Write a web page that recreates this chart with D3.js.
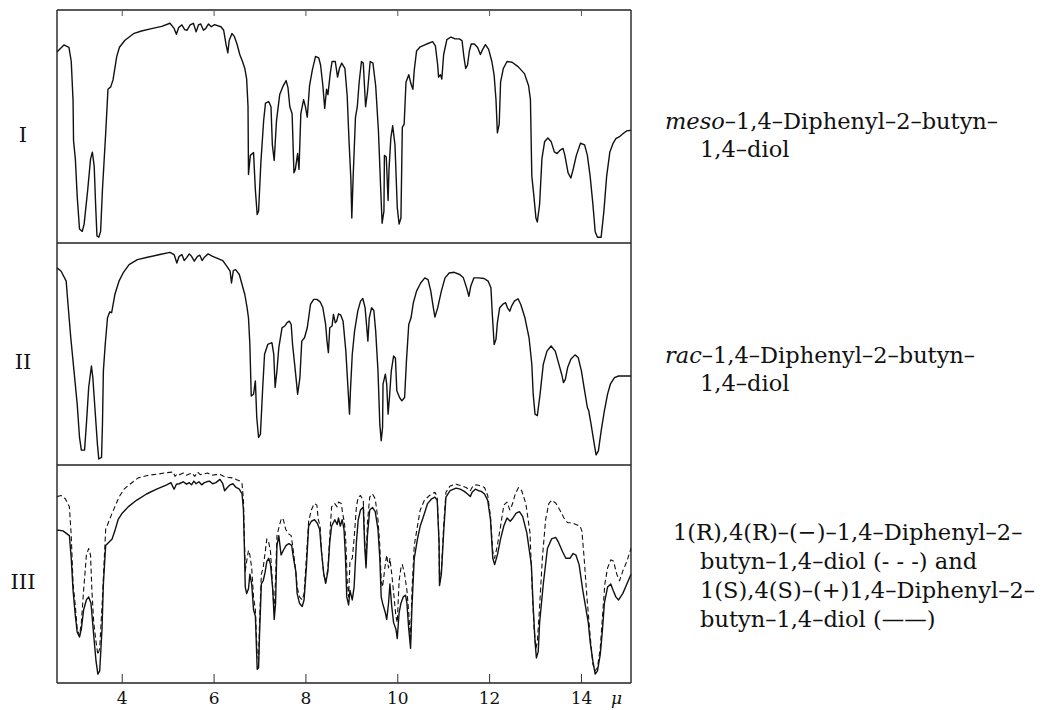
<!DOCTYPE html>
<html>
<head>
<meta charset="utf-8">
<script src="https://cdn.jsdelivr.net/npm/d3@7"></script>
<style>
  body { margin: 0; background: #fff; }
  text { font-family: "DejaVu Serif", "Liberation Serif", serif; fill: #111; }
  path.spectrum { fill: none; stroke: #111; stroke-width: 1.4; stroke-linejoin: round; }
  path.dashed { stroke-dasharray: 5,3; stroke-width: 1.1; }
  line.frame { stroke: #222; stroke-width: 1.4; }
</style>
</head>
<body>
<script>

// wavelength ticks (micron)
var tickValues = [4, 6, 8, 10, 12, 14];
var panelNames = ["I", "II", "III"];

// spectra: [wavelength in micron, transmission in % of panel height]
var meso = [[2.59,82],[2.74,85],[2.85,84],[2.90,78],[2.94,61],[2.95,44],[2.99,36],[3.03,20],[3.08,6],[3.14,5],[3.18,8],[3.26,23],[3.32,36],[3.36,39],[3.40,33],[3.43,17],[3.46,3],[3.50,2.5],[3.54,5],[3.58,23],[3.65,47],[3.70,66],[3.76,67],[3.81,70],[3.89,80],[3.95,84],[4.07,87],[4.27,90],[4.43,91],[4.65,92],[4.87,93],[5.05,94.3],[5.14,92.1],[5.19,89.6],[5.24,92.5],[5.31,93.6],[5.37,91.6],[5.42,91.3],[5.49,93.6],[5.56,94.3],[5.62,90.6],[5.67,93.6],[5.72,94],[5.78,91.3],[5.83,92.1],[5.89,94],[5.95,92.8],[6.02,93.7],[6.16,92.8],[6.22,91.3],[6.27,85.4],[6.31,81.6],[6.34,86.9],[6.40,89.9],[6.45,88.7],[6.51,85.4],[6.57,80.9],[6.63,77.9],[6.68,74.9],[6.72,70.4],[6.75,58.5],[6.76,29.4],[6.80,37.6],[6.87,38.8],[6.91,22.7],[6.95,12.2],[6.98,13.7],[7.03,34.6],[7.09,52.5],[7.13,60],[7.20,60.7],[7.25,58.5],[7.28,42.1],[7.32,35.4],[7.37,52.5],[7.44,63.7],[7.51,67.2],[7.58,69.7],[7.62,66.7],[7.66,58.5],[7.71,55.5],[7.75,30.1],[7.78,31.6],[7.83,38.4],[7.86,31.6],[7.90,55.5],[7.96,61.5],[8.00,58.5],[8.04,54],[8.09,67.5],[8.15,74.2],[8.22,80.1],[8.29,79.4],[8.33,76.4],[8.38,67.5],[8.42,57.8],[8.46,66],[8.49,63.7],[8.54,72.7],[8.58,77.9],[8.65,77.9],[8.70,71.2],[8.74,74.9],[8.79,77.2],[8.86,74.9],[8.91,63],[8.95,43.6],[8.99,27.2],[9.01,10.7],[9.04,28.7],[9.09,54],[9.13,58.5],[9.17,69],[9.22,77.9],[9.26,77.2],[9.31,58.5],[9.35,64.5],[9.41,77.9],[9.47,77.2],[9.53,67.5],[9.59,48.1],[9.64,22.7],[9.67,8.5],[9.71,13.7],[9.72,37.6],[9.76,36.9],[9.80,18.2],[9.82,31.6],[9.86,45.1],[9.90,50.3],[9.95,42.1],[10.00,15.2],[10.04,8.1],[10.08,10.7],[10.11,49.6],[10.15,51],[10.19,69],[10.25,72.2],[10.30,68.2],[10.34,66],[10.37,74.2],[10.42,82.4],[10.50,84.2],[10.64,85.4],[10.77,86.4],[10.83,84.6],[10.88,76.4],[10.90,71.2],[10.94,72.2],[10.97,70.4],[11.01,80.9],[11.08,87.3],[11.17,88.4],[11.26,87.6],[11.35,87.6],[11.41,86.9],[11.45,80.1],[11.49,74.9],[11.53,76.4],[11.57,82.4],[11.61,85.4],[11.68,85.4],[11.75,83.9],[11.81,80.9],[11.86,83.1],[11.92,85.1],[11.99,83.1],[12.06,77.9],[12.11,71.9],[12.15,61.5],[12.18,47.3],[12.22,51],[12.25,69],[12.31,74.9],[12.39,77.9],[12.50,77.6],[12.63,75.7],[12.77,72.7],[12.86,67.5],[12.90,61.5],[12.93,28.7],[12.97,21.2],[13.02,10.7],[13.05,9],[13.10,16.7],[13.15,36.1],[13.21,43.6],[13.28,45.1],[13.35,43.6],[13.42,39.1],[13.48,38.4],[13.55,39.9],[13.61,40.6],[13.65,37.6],[13.72,30.1],[13.78,27.9],[13.83,31.6],[13.90,37.6],[13.99,42.8],[14.08,42.1],[14.14,37.6],[14.20,28.7],[14.26,16.7],[14.31,4.8],[14.36,2.5],[14.44,2.5],[14.50,13.7],[14.56,28.7],[14.63,39.1],[14.70,42.8],[14.76,44.8],[14.85,45.8],[14.94,47.3],[15.00,48.1],[15.09,48.4]];

var rac = [[2.59,88.8],[2.68,87.3],[2.79,82.8],[2.83,72.3],[2.89,57.3],[2.96,42.4],[3.03,27.4],[3.08,12.4],[3.12,6.7],[3.19,6.7],[3.23,18.4],[3.28,34.9],[3.34,44.6],[3.37,39.4],[3.42,24.4],[3.47,9.4],[3.50,2.7],[3.56,3.4],[3.58,18.4],[3.60,42.4],[3.64,54.3],[3.69,66.3],[3.74,69],[3.78,68.6],[3.85,76.8],[3.94,82.8],[4.03,86.5],[4.16,90.3],[4.34,92.5],[4.56,93.6],[4.83,94.8],[5.05,95.8],[5.14,94.8],[5.20,91],[5.25,94],[5.31,94.8],[5.36,92.1],[5.41,93.3],[5.47,95.1],[5.52,94],[5.58,91.8],[5.65,94],[5.70,94.5],[5.75,92.1],[5.80,93.6],[5.88,95.1],[5.98,94],[6.20,92.1],[6.29,89.5],[6.36,87.3],[6.39,82],[6.43,87.6],[6.48,88],[6.56,85.8],[6.62,81.3],[6.68,76.8],[6.73,70.8],[6.76,66.3],[6.79,54.3],[6.82,31.1],[6.87,31.9],[6.91,37.9],[6.94,21.4],[6.98,12.4],[7.02,13.9],[7.07,34.9],[7.11,49.9],[7.18,54.3],[7.27,55.1],[7.31,49.9],[7.34,34.9],[7.38,42.4],[7.42,52.8],[7.49,61.8],[7.55,62.6],[7.60,64.1],[7.65,64.8],[7.69,63.3],[7.72,54.3],[7.78,42.4],[7.83,31.9],[7.88,39.4],[7.92,55.8],[7.98,57.3],[8.04,61.8],[8.11,72.3],[8.18,74.6],[8.25,74.6],[8.32,73.5],[8.38,70.8],[8.44,63.3],[8.47,55.8],[8.50,50.6],[8.53,61.8],[8.58,62.6],[8.61,67.8],[8.65,64.1],[8.68,64.8],[8.72,68.1],[8.77,67.5],[8.82,64.8],[8.88,51.3],[8.93,33.4],[8.96,22.9],[8.98,33.4],[9.02,49.9],[9.07,60.3],[9.14,69.3],[9.20,73.8],[9.25,75],[9.30,70.8],[9.33,63.3],[9.36,55.8],[9.39,66.3],[9.44,70.8],[9.49,69.6],[9.53,60.3],[9.58,42.4],[9.62,18.4],[9.65,10.9],[9.68,16.9],[9.69,36.4],[9.74,40.9],[9.77,36.4],[9.80,22.9],[9.83,30.4],[9.87,42.4],[9.92,49.1],[9.96,48.1],[9.99,33.4],[10.05,30.4],[10.10,28.9],[10.16,30.4],[10.20,46.9],[10.25,63.3],[10.30,66.3],[10.35,73.1],[10.42,78.3],[10.51,82],[10.60,84.3],[10.67,83.5],[10.73,78.3],[10.78,71.6],[10.82,66.6],[10.88,70.8],[10.96,78.3],[11.04,84.3],[11.13,86.5],[11.24,86.8],[11.36,85.8],[11.44,84.3],[11.51,79.8],[11.56,76],[11.60,80.5],[11.67,84.3],[11.77,84.3],[11.89,84],[11.98,82.8],[12.04,79.8],[12.07,67.8],[12.11,54.3],[12.15,56.6],[12.18,64.1],[12.23,70.8],[12.31,72.6],[12.36,73.1],[12.40,70.8],[12.45,69.3],[12.49,71.6],[12.55,73.8],[12.63,74.9],[12.69,72.3],[12.78,66.3],[12.87,57.3],[12.93,45.4],[12.96,31.9],[13.00,22.9],[13.05,22.2],[13.11,31.9],[13.18,45.4],[13.26,51.3],[13.35,53.6],[13.44,51.3],[13.51,46.1],[13.58,40.9],[13.62,37.1],[13.66,38.6],[13.71,43.9],[13.78,47.6],[13.87,49.6],[13.94,48.4],[14.01,42.4],[14.08,33.4],[14.14,25.9],[14.17,24.4],[14.22,18.4],[14.29,9.4],[14.33,4.6],[14.38,6.4],[14.44,15.4],[14.51,24.4],[14.58,31.9],[14.64,36.4],[14.73,39.4],[14.82,40.1],[14.93,40.1],[15.09,40.1]];

// 1(S),4(S)-(+) : solid line
var ssPlus = [[2.59,70.2],[2.72,69.8],[2.86,67.6],[2.90,57.2],[2.94,42.5],[2.99,30.7],[3.03,23.3],[3.08,21.1],[3.12,24.8],[3.17,33.6],[3.23,38.1],[3.28,39.5],[3.33,36.6],[3.39,21.8],[3.44,10],[3.48,4.1],[3.52,5.6],[3.57,24.8],[3.60,45.4],[3.65,63.1],[3.72,64.6],[3.79,66.1],[3.85,69.8],[3.92,74.9],[4.01,77.9],[4.14,80.8],[4.32,83.8],[4.54,86.7],[4.76,88.9],[4.98,90.9],[5.07,91.9],[5.14,88.9],[5.19,91.2],[5.25,91.4],[5.34,92.3],[5.41,91.2],[5.47,91.9],[5.52,90.9],[5.57,92.6],[5.62,91.4],[5.68,92.3],[5.74,90.9],[5.80,91.9],[5.85,92.3],[5.91,92.6],[5.98,91.4],[6.05,91.9],[6.14,93.4],[6.20,91.4],[6.24,88.2],[6.30,89.7],[6.36,90.9],[6.42,91.4],[6.49,89.7],[6.56,88.9],[6.62,86.7],[6.65,79.4],[6.67,63.1],[6.69,44],[6.72,41],[6.76,43.2],[6.79,49.9],[6.83,45.4],[6.87,33.6],[6.91,30.7],[6.95,6.3],[6.98,7.1],[7.00,21.8],[7.04,45.4],[7.08,46.9],[7.12,50.6],[7.16,55.8],[7.20,57.2],[7.24,54.3],[7.29,42.5],[7.32,29.2],[7.35,36.6],[7.38,63.1],[7.42,67.6],[7.47,58.7],[7.52,60.9],[7.58,63.1],[7.64,63.9],[7.70,63.1],[7.74,57.2],[7.79,51.3],[7.82,41],[7.87,36.6],[7.93,35.1],[7.97,38.1],[8.02,52.8],[8.07,72],[8.13,74.2],[8.20,74.9],[8.26,73.2],[8.31,70.5],[8.35,60.2],[8.40,49.9],[8.44,45.7],[8.49,51.3],[8.53,64.6],[8.57,72],[8.64,74.9],[8.69,72.7],[8.72,75.7],[8.76,72],[8.80,74.9],[8.84,70.5],[8.87,58.7],[8.90,39.5],[8.94,35.8],[8.97,42.5],[9.02,38.1],[9.06,44],[9.11,64.6],[9.15,74.9],[9.20,79.4],[9.26,80.8],[9.29,63.1],[9.32,52.8],[9.35,67.6],[9.40,79.4],[9.46,80.5],[9.52,78.6],[9.58,70.5],[9.62,57.2],[9.65,39.5],[9.68,36.6],[9.74,32.2],[9.77,29.2],[9.81,36.6],[9.84,45.4],[9.88,35.1],[9.92,27.7],[9.97,24.8],[10.00,20.4],[10.04,32.2],[10.08,36.6],[10.13,39.5],[10.18,40.3],[10.21,36.6],[10.25,24.8],[10.29,15.9],[10.32,35.1],[10.37,57.2],[10.44,66.1],[10.50,72],[10.57,76.4],[10.66,82.3],[10.75,84.5],[10.82,85.3],[10.87,83.8],[10.91,64.6],[10.92,44.7],[10.96,49.9],[11.01,69],[11.06,85.3],[11.15,88.2],[11.28,89.4],[11.37,88.9],[11.46,87.9],[11.53,86.7],[11.59,85.5],[11.63,87.5],[11.70,88.9],[11.77,88.2],[11.83,87.9],[11.90,86.7],[11.97,83.8],[12.03,74.9],[12.08,57.2],[12.12,54.3],[12.18,58.7],[12.25,66.1],[12.32,72],[12.39,75.7],[12.46,74.2],[12.52,75.7],[12.59,77.9],[12.66,78.6],[12.73,76.4],[12.82,69],[12.92,54.3],[12.96,35.1],[13.00,18.9],[13.03,11.5],[13.07,14.5],[13.10,27.7],[13.18,45.4],[13.27,61.7],[13.36,66.1],[13.45,66.8],[13.51,64.6],[13.60,60.2],[13.67,57.2],[13.76,57.2],[13.83,59.4],[13.89,58.7],[13.96,54.3],[14.04,42.5],[14.16,27.7],[14.20,18.9],[14.26,10],[14.31,4.1],[14.36,5.6],[14.42,13],[14.47,24.8],[14.51,36.6],[14.58,44],[14.65,45.4],[14.70,42.5],[14.76,39.5],[14.82,38.1],[14.91,41],[15.00,45.4],[15.09,49.9]];

// 1(R),4(R)-(-) : dashed line
var rrMinus = [[2.59,85.5],[2.68,86],[2.77,84.5],[2.86,80.8],[2.90,67.6],[2.94,45.4],[2.99,35.1],[3.03,24.8],[3.08,21.8],[3.12,27.7],[3.17,42.5],[3.23,58.7],[3.28,61.7],[3.32,58.7],[3.35,42.5],[3.39,27.7],[3.44,18.9],[3.48,13],[3.52,15.9],[3.57,35.1],[3.61,52.8],[3.65,70.5],[3.72,74.2],[3.79,77.9],[3.85,80.8],[3.94,85.3],[4.05,88.9],[4.19,91.4],[4.36,94.1],[4.58,95.3],[4.81,95.9],[4.98,96.5],[5.12,96.8],[5.16,94.8],[5.21,95.9],[5.27,95.6],[5.34,96.3],[5.41,95.3],[5.47,95.9],[5.53,96.3],[5.59,94.8],[5.65,96.8],[5.71,95.6],[5.78,95.9],[5.87,96.3],[5.96,95.3],[6.05,95.6],[6.14,95.6],[6.22,94.8],[6.31,94.4],[6.40,94.1],[6.49,93.4],[6.58,92.6],[6.62,91.4],[6.65,83.8],[6.67,66.1],[6.69,51.3],[6.72,55.8],[6.76,60.9],[6.79,58.7],[6.83,52.8],[6.87,39.5],[6.91,33.6],[6.95,13],[6.98,10.8],[7.00,27.7],[7.04,49.9],[7.08,52.8],[7.12,59.4],[7.16,66.1],[7.20,64.6],[7.24,60.2],[7.29,42.5],[7.32,32.2],[7.35,48.4],[7.38,67.6],[7.43,72],[7.48,75.7],[7.52,74.9],[7.57,70.5],[7.64,68.3],[7.69,67.6],[7.73,61.7],[7.79,51.3],[7.82,44],[7.87,39.5],[7.93,38.1],[7.97,41],[8.02,57.2],[8.07,74.2],[8.13,79.4],[8.19,82.3],[8.25,81.6],[8.28,74.9],[8.32,72],[8.35,60.2],[8.40,49.9],[8.44,46.2],[8.49,52.8],[8.53,67.6],[8.57,80.8],[8.64,82.3],[8.69,80.8],[8.72,83],[8.78,82.3],[8.81,77.9],[8.85,73.5],[8.88,64.6],[8.91,46.9],[8.94,39.5],[8.97,55.8],[9.02,57.2],[9.06,66.1],[9.11,80.8],[9.15,85.3],[9.20,86],[9.26,83.8],[9.29,66.1],[9.32,54.3],[9.35,73.5],[9.40,85.3],[9.46,86.7],[9.52,84.5],[9.58,74.9],[9.62,63.1],[9.65,46.9],[9.68,44],[9.73,52.8],[9.77,58.7],[9.81,52.8],[9.84,57.2],[9.88,49.9],[9.93,39.5],[9.97,30.7],[10.00,27.7],[10.04,46.9],[10.08,52.8],[10.11,54.3],[10.16,49.9],[10.21,42.5],[10.25,32.2],[10.29,18.9],[10.32,42.5],[10.37,63.1],[10.44,72],[10.50,79.4],[10.59,83.8],[10.70,86],[10.82,87.5],[10.87,85.3],[10.91,64.6],[10.92,45.4],[10.96,51.3],[11.01,72],[11.06,87.5],[11.15,90.4],[11.28,91.2],[11.41,90.4],[11.50,89.7],[11.59,88.2],[11.65,90.4],[11.72,90.9],[11.81,90.4],[11.90,89.7],[11.97,86],[12.03,76.4],[12.08,60.2],[12.12,57.2],[12.18,63.1],[12.25,72],[12.32,81.6],[12.39,83],[12.45,79.4],[12.50,81.6],[12.57,86.7],[12.64,89.7],[12.71,88.2],[12.80,82.3],[12.89,69],[12.94,42.5],[12.98,24.8],[13.02,15.9],[13.05,18.9],[13.10,35.1],[13.16,57.2],[13.23,74.9],[13.30,82.3],[13.36,83.8],[13.45,82.6],[13.54,79.4],[13.63,75.7],[13.71,73.5],[13.80,73.5],[13.89,72.7],[13.98,72],[14.02,69.8],[14.07,57.2],[14.13,39.5],[14.20,21.8],[14.26,8.6],[14.31,5.6],[14.36,7.1],[14.42,15.9],[14.47,30.7],[14.52,45.4],[14.58,52.8],[14.65,56.5],[14.71,55.8],[14.78,49.9],[14.84,46.9],[14.91,51.3],[15.00,55.8],[15.09,61.7]];

var captions = [
  [{t: "meso", i: true}, {t: "–1,4–Diphenyl–2–butyn–"}],
  [{t: "1,4–diol"}],
  [{t: "rac", i: true}, {t: "–1,4–Diphenyl–2–butyn–"}],
  [{t: "1,4–diol"}],
  [{t: "1(R),4(R)–(−)–1,4–Diphenyl–2–"}],
  [{t: "butyn–1,4–diol (- - -) and"}],
  [{t: "1(S),4(S)–(+)1,4–Diphenyl–2–"}],
  [{t: "butyn–1,4–diol (——)"}]
];

var width = 1041, height = 710;
var left = 57, right = 631;
var bounds = [10, 243, 465, 683];   // panel edges, top to bottom

var svg = d3.select("body").append("svg")
    .attr("width", width)
    .attr("height", height);

var x = d3.scaleLinear().domain([2.59, 15.09]).range([left, right]);

var panels = [
  {series: [{data: meso}], name: panelNames[0]},
  {series: [{data: rac}], name: panelNames[1]},
  {series: [{data: rrMinus, dashed: true}, {data: ssPlus}], name: panelNames[2]}
];

panels.forEach(function(p, i) {
  var y = d3.scaleLinear().domain([0, 100]).range([bounds[i + 1], bounds[i]]);
  var line = d3.line()
      .x(function(d) { return x(d[0]); })
      .y(function(d) { return y(d[1]); });

  p.series.forEach(function(s) {
    svg.append("path")
        .datum(s.data)
        .attr("class", s.dashed ? "spectrum dashed" : "spectrum")
        .attr("d", line);
  });

  svg.append("text")
      .attr("x", 23)
      .attr("y", (bounds[i] + bounds[i + 1]) / 2 + 15)
      .attr("text-anchor", "middle")
      .style("font-size", "21px")
      .text(p.name);
});

// frame
bounds.forEach(function(b) {
  svg.append("line").attr("class", "frame")
      .attr("x1", left).attr("x2", right).attr("y1", b).attr("y2", b);
});
[left, right].forEach(function(v) {
  svg.append("line").attr("class", "frame")
      .attr("x1", v).attr("x2", v).attr("y1", bounds[0]).attr("y2", bounds[3]);
});

// bottom axis, ticks drawn inward
var axis = svg.append("g")
    .attr("transform", "translate(0," + bounds[3] + ")")
    .call(d3.axisBottom(x).tickValues(tickValues).tickSizeInner(-9).tickSizeOuter(0).tickPadding(9));
axis.select(".domain").remove();
axis.selectAll(".tick line").attr("stroke", "#333").attr("stroke-width", 1);
axis.selectAll(".tick text")
    .style("font-family", "'DejaVu Serif', serif")
    .style("font-size", "17px")
    .attr("fill", "#111");

// top ticks on the first panel
svg.append("g")
    .attr("transform", "translate(0," + bounds[0] + ")")
    .call(d3.axisTop(x).tickValues(tickValues).tickSizeInner(-6).tickSizeOuter(0).tickFormat(""))
    .call(function(g) { g.select(".domain").remove(); })
    .selectAll(".tick line").attr("stroke", "#555");

svg.append("text")
    .attr("x", 611).attr("y", 704)
    .style("font-size", "17px")
    .style("font-style", "italic")
    .text("μ");

// captions on the right
var capPos = [[665, 129], [700, 157], [665, 363], [700, 391], [673, 540], [700, 569], [700, 598], [700, 627]];
captions.forEach(function(parts, i) {
  var t = svg.append("text")
      .attr("x", capPos[i][0])
      .attr("y", capPos[i][1])
      .style("font-size", "22.5px");
  parts.forEach(function(p) {
    t.append("tspan").style("font-style", p.i ? "italic" : null).text(p.t);
  });
});

</script>
</body>
</html>
